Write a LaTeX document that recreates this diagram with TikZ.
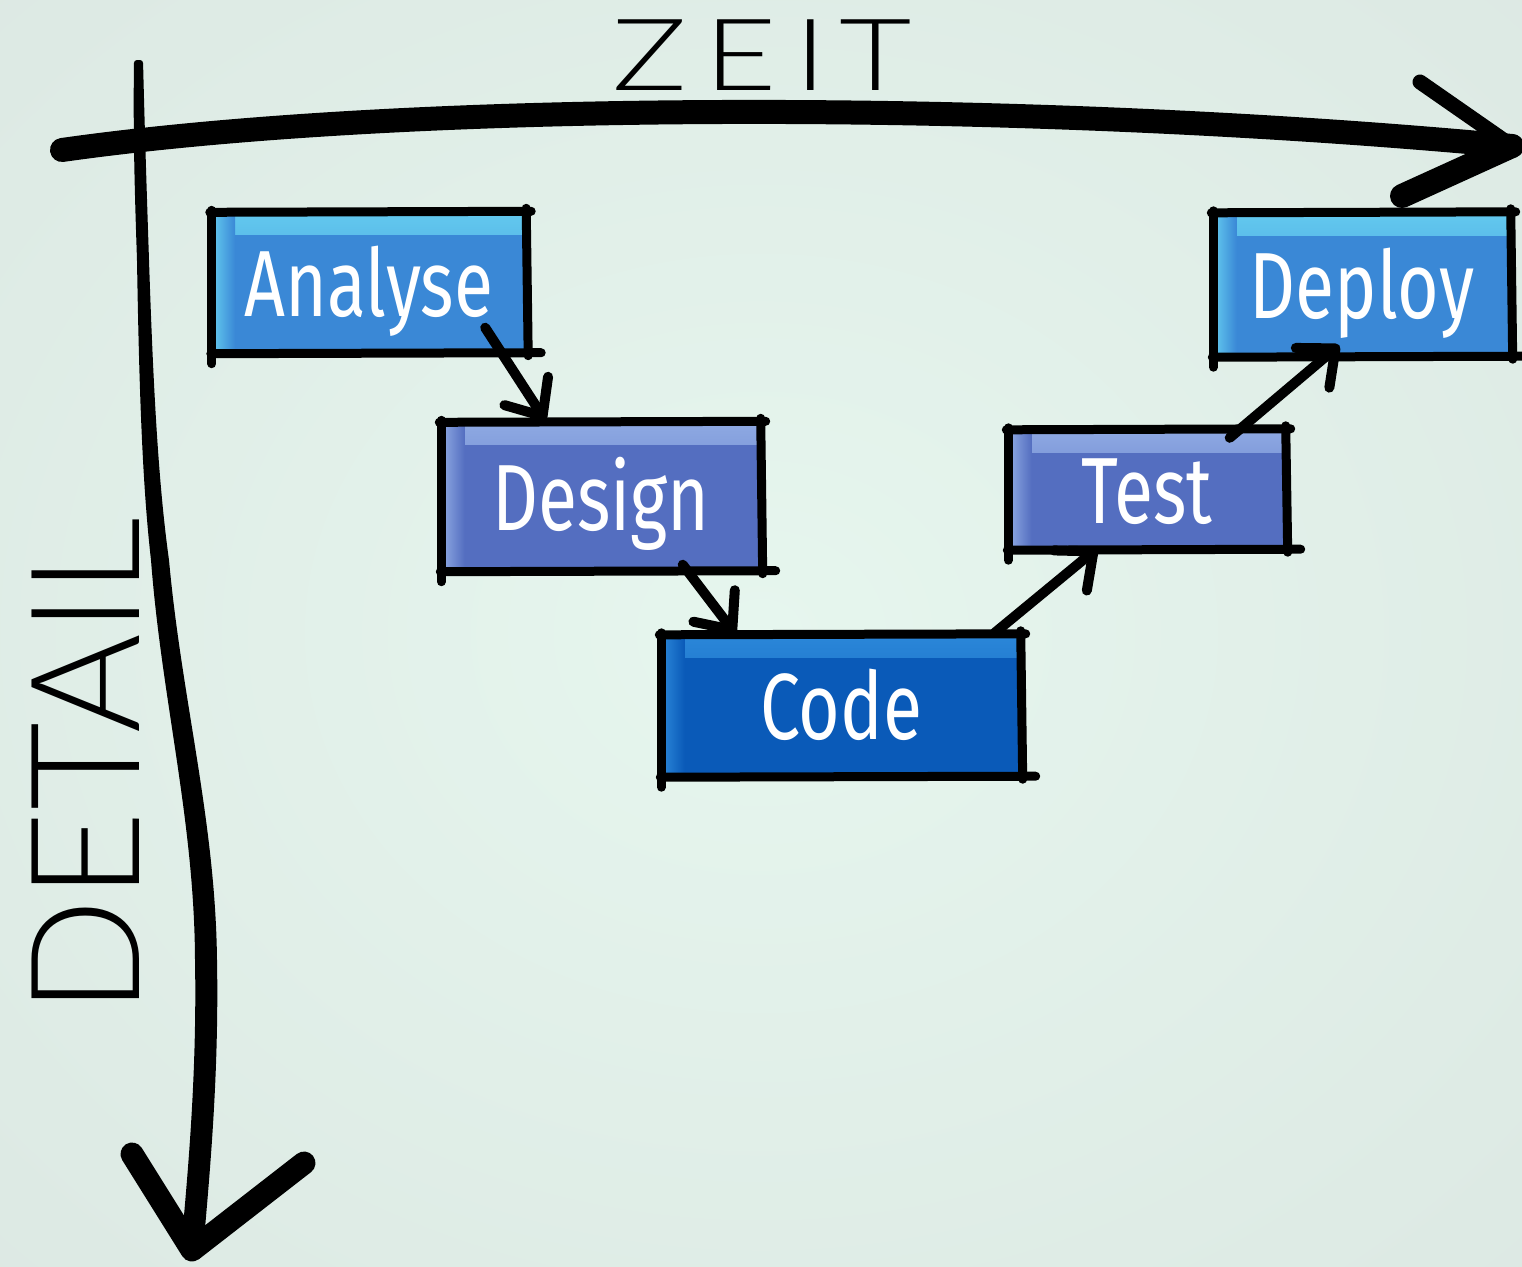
\documentclass[tikz,border=0pt]{standalone}
\usepackage{fontspec}
\usetikzlibrary{arrows.meta,calc}
\newfontfamily\boxfont[FakeStretch=0.76]{Fira Sans}
\newfontfamily\handfont{Lato Light}

\definecolor{bgin}{HTML}{E6F6EE}
\definecolor{bgmid}{HTML}{DEEBE5}
\definecolor{bgout}{HTML}{D3DDD9}
\definecolor{skyMain}{HTML}{3A88D6}
\definecolor{skyHi}{HTML}{62C8EE}
\definecolor{slateMain}{HTML}{546EC0}
\definecolor{slateHi}{HTML}{8DA8E2}
\definecolor{deepMain}{HTML}{0A5AB8}
\definecolor{deepHi}{HTML}{2A86D8}

\pgfdeclareradialshading{bgglow}{\pgfpoint{0bp}{0bp}}{%
  color(0bp)=(bgin); color(30bp)=(bgmid); color(72bp)=(bgout)}

\tikzset{
  stage/.style 2 args={
    fill=#1, inner sep=0pt, text=white,
    font=\boxfont\fontsize{94}{94}\selectfont,
    text height=66pt, text depth=0pt,
    path picture={
      \shade[top color=#2, bottom color=#1]
        (path picture bounding box.north west) rectangle
        ([yshift=-20pt]path picture bounding box.north east);
      \shade[left color=#2, right color=#1]
        (path picture bounding box.north west) rectangle
        ([xshift=22pt]path picture bounding box.south west);
    }},
  outline/.style={draw=black, line width=9pt, line cap=round},
  flow/.style={draw=black, line width=10pt, line cap=round,
    -{Straight Barb[length=30pt, width=52pt, round]}},
  axisline/.style={draw=black, line cap=round, line join=round},
  hand/.style={font=\handfont, text=black, inner sep=0pt},
}

% rough black border around a stage box
\newcommand\sketchframe[1]{%
  \draw[outline] ([xshift=-3pt,yshift=2pt]#1.north west) -- ([xshift=6pt,yshift=3pt]#1.north east);
  \draw[outline] ([xshift=1pt,yshift=6pt]#1.north east) -- ([xshift=3pt,yshift=-4pt]#1.south east);
  \draw[outline] ([xshift=-2pt,yshift=-2pt]#1.south west) -- ([xshift=16pt,yshift=-1pt]#1.south east);
  \draw[outline] ([xshift=-1pt,yshift=4pt]#1.north west) -- ([xshift=-1pt,yshift=-12pt]#1.south west);
}

\begin{document}
\begin{tikzpicture}[x=1pt, y=-1pt]
  \useasboundingbox (0,0) rectangle (1522,1266);
  \shade[shading=bgglow] (0,0) rectangle (1522,1266);

  % time axis
  \coordinate (xs) at (62,150);
  \coordinate (xe) at (1512,146);
  \draw[axisline, line width=24pt] (xs) .. controls (400,102) and (1000,98) .. (xe);
  \draw[axisline, line width=15pt] (1420,82) -- (xe);
  \draw[axisline, line width=24pt] (xe) -- (1402,196);

  % detail axis: a brush stroke that widens towards the bottom
  \coordinate (ye) at (192,1250);
  \fill[black, rounded corners=3pt]
    (134,60) .. controls (133,140) and (135,200) .. (137,260)
    .. controls (139,380) and (142,480) .. (151,560)
    .. controls (162,700) and (194,820) .. (195,960)
    .. controls (197,1080) and (187,1180) .. (181,1250)
    -- (203,1252)
    .. controls (209,1180) and (219,1080) .. (217,960)
    .. controls (215,820) and (182,700) .. (169,560)
    .. controls (158,480) and (153,380) .. (149,260)
    .. controls (147,200) and (145,140) .. (143,60) -- cycle;
  \draw[axisline, line width=23pt] (132,1154) -- (ye) -- (304,1163);

  % axis labels
  \node[hand, xscale=1.25, transform shape] (zeit) at (762,55)
    {\fontsize{100}{100}\selectfont Z\hspace{14pt}E\hspace{14pt}I\hspace{10pt}T};
  \node[hand, rotate=90] (detail) at (86,766)
    {\fontsize{152}{152}\selectfont DETAIL};

  % stages
  \node[stage={skyMain}{skyHi}, minimum width=312pt, minimum height=137pt] (ana) at (369,283) {Analyse};
  \node[stage={slateMain}{slateHi}, minimum width=317pt, minimum height=145pt] (des) at (601,497) {Design};
  \node[stage={deepMain}{deepHi}, minimum width=357pt, minimum height=138pt] (cod) at (841,706) {Code};
  \node[stage={slateMain}{slateHi}, minimum width=275pt, minimum height=116pt] (tst) at (1147,490) {Test};
  \node[stage={skyMain}{skyHi}, minimum width=295pt, minimum height=140pt] (dep) at (1362,285) {Deploy};

  \sketchframe{ana}
  \sketchframe{des}
  \sketchframe{cod}
  \sketchframe{tst}
  \sketchframe{dep}

  % flow between stages
  \draw[flow] ([xshift=-40pt,yshift=24pt]ana.south east) -- ([xshift=103pt,yshift=4pt]des.north west);
  \draw[flow] ([xshift=-77pt,yshift=5pt]des.south east) -- ([xshift=73pt,yshift=3pt]cod.north west);
  \draw[flow] ([xshift=-25pt,yshift=4pt]cod.north east) -- ([xshift=88pt]tst.south west);
  \draw[flow] ([xshift=-55pt,yshift=-6pt]tst.north east) -- ([xshift=125pt,yshift=10pt]dep.south west);
\end{tikzpicture}
\end{document}
